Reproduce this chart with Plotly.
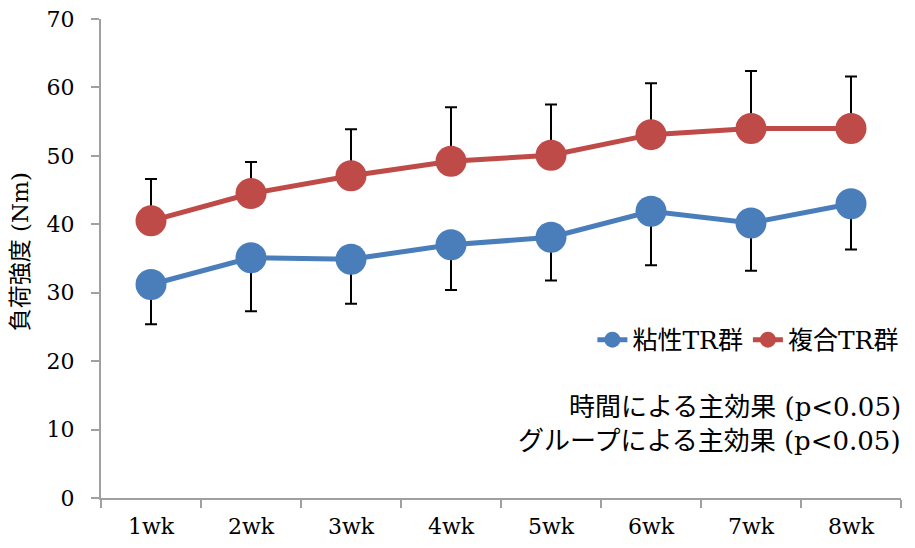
import plotly.graph_objects as go

weeks = ["1wk", "2wk", "3wk", "4wk", "5wk", "6wk", "7wk", "8wk"]
viscous = [31.2, 35.1, 34.9, 37.0, 38.1, 41.9, 40.2, 43.0]
viscous_sd = [5.8, 7.8, 6.5, 6.6, 6.3, 7.9, 7.0, 6.7]
combined = [40.5, 44.5, 47.1, 49.2, 50.1, 53.1, 54.0, 54.0]
combined_sd = [6.1, 4.6, 6.8, 7.9, 7.4, 7.5, 8.4, 7.6]
zeros = [0] * len(weeks)

BLUE = "#4a7ebb"
RED = "#be4b48"
AXIS = "#a0a0a0"
SERIF = "DejaVu Serif, Liberation Serif, serif"
JP = "DejaVu Serif, Noto Sans CJK JP, serif"

fig = go.Figure()
fig.add_trace(go.Scatter(
    x=weeks, y=viscous, name="粘性TR群", mode="lines+markers",
    line=dict(color=BLUE, width=5), marker=dict(size=31, color=BLUE),
    error_y=dict(type="data", symmetric=False, array=zeros, arrayminus=viscous_sd,
                 color="black", thickness=2, width=6),
))
fig.add_trace(go.Scatter(
    x=weeks, y=combined, name="複合TR群", mode="lines+markers",
    line=dict(color=RED, width=5), marker=dict(size=31, color=RED),
    error_y=dict(type="data", symmetric=False, array=combined_sd, arrayminus=zeros,
                 color="black", thickness=2, width=6),
))

fig.update_layout(
    width=915, height=548,
    margin=dict(l=101, r=12, t=19, b=50),
    paper_bgcolor="white", plot_bgcolor="white",
    font=dict(family=SERIF, size=22, color="black"),
    showlegend=True,
    legend=dict(orientation="h", x=1.003, xanchor="right", y=0.33, yanchor="middle",
                font=dict(family=JP, size=25), bgcolor="rgba(0,0,0,0)",
                tracegroupgap=0, itemwidth=30),
    xaxis=dict(type="category", range=[-0.5, 7.5], tickson="boundaries",
               ticks="outside", ticklen=8, tickcolor=AXIS, tickwidth=2,
               showline=True, linecolor=AXIS, linewidth=2, automargin=False,
               showgrid=False, ticklabelstandoff=8,
               tickfont=dict(family=SERIF, size=22)),
    yaxis=dict(range=[0, 70], dtick=10, ticks="outside", ticklen=8, tickcolor=AXIS,
               tickwidth=2, showline=True, linecolor=AXIS, linewidth=2,
               showgrid=False, zeroline=False, automargin=False,
               ticklabelstandoff=12,
               tickfont=dict(family=SERIF, size=22)),
    annotations=[
        dict(text="負荷強度 (Nm)", xref="paper", yref="paper", textangle=-90,
             x=(20 - 101) / 802, y=(498 - 252) / 479, xanchor="center", yanchor="middle",
             showarrow=False, font=dict(family=JP, size=23)),
        dict(text="時間による主効果 (p<0.05)", xref="paper", yref="paper",
             x=1.003, y=(498 - 407) / 479, xanchor="right", yanchor="middle",
             showarrow=False, font=dict(family=JP, size=26)),
        dict(text="グループによる主効果 (p<0.05)", xref="paper", yref="paper",
             x=1.003, y=(498 - 441) / 479, xanchor="right", yanchor="middle",
             showarrow=False, font=dict(family=JP, size=26)),
    ],
)

fig.write_html("out.html", config={"displayModeBar": False},
               post_script="document.body.style.margin='0';document.body.style.overflow='hidden';")
